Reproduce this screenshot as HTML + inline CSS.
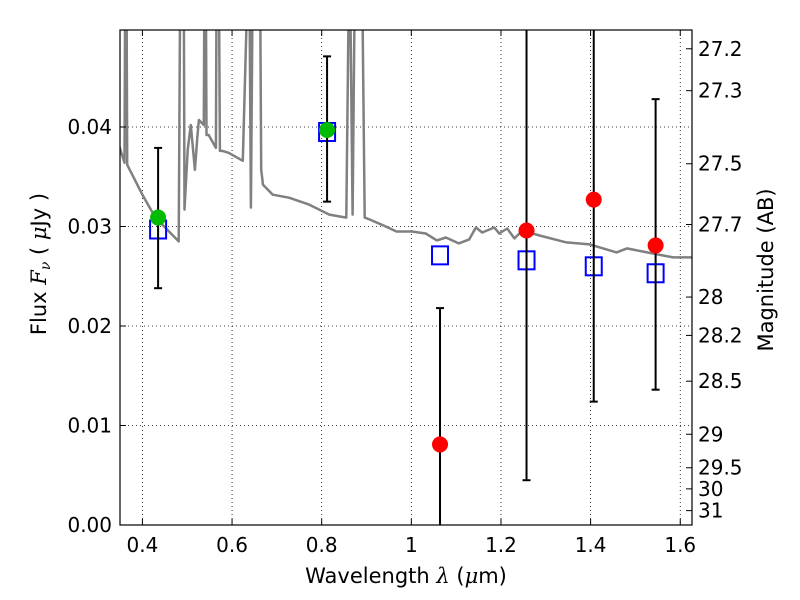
<!DOCTYPE html>
<html><head><meta charset="utf-8"><style>
body{margin:0;background:#fff;}
svg{display:block;font-family:"DejaVu Sans","Liberation Sans",sans-serif;}
</style></head><body>
<svg id="chart" width="800" height="600" xmlns="http://www.w3.org/2000/svg"></svg>
<script>
const xTicks=[0.4,0.6,0.8,1.0,1.2,1.4,1.6];
const xTickLabels=["0.4","0.6","0.8","1","1.2","1.4","1.6"];
const yTicks=[0,0.01,0.02,0.03,0.04];
const yTickLabels=["0.00","0.01","0.02","0.03","0.04"];
const magTicks=[27.2,27.3,27.5,27.7,28,28.2,28.5,29,29.5,30,31];
const specLam=[0.344,0.360,0.362,0.364,0.366,0.400,0.429,0.481,0.485,0.492,0.494,0.501,0.508,0.517,0.523,0.526,0.537,0.539,0.541,0.543,0.548,0.564,0.566,0.570,0.573,0.579,0.593,0.624,0.638,0.642,0.647,0.662,0.665,0.669,0.691,0.727,0.772,0.817,0.855,0.862,0.869,0.875,0.889,0.896,0.907,0.938,0.967,1.001,1.032,1.057,1.077,1.106,1.129,1.144,1.158,1.185,1.196,1.214,1.230,1.248,1.286,1.346,1.398,1.458,1.481,1.526,1.584,1.629];
const specFlux=[0.0387,0.0364,0.06,0.06,0.0362,0.0332,0.0309,0.0285,0.06,0.06,0.0317,0.0377,0.0402,0.0357,0.0392,0.0407,0.0402,0.06,0.06,0.0392,0.0392,0.0379,0.06,0.06,0.0376,0.0376,0.0374,0.0366,0.06,0.0319,0.06,0.06,0.0357,0.0342,0.0332,0.0329,0.0322,0.0312,0.0309,0.06,0.0312,0.06,0.06,0.0309,0.0307,0.0301,0.0295,0.0295,0.0293,0.0286,0.0289,0.0283,0.0287,0.0299,0.0294,0.0299,0.0293,0.0298,0.0288,0.0296,0.0291,0.0284,0.0282,0.0274,0.0278,0.0274,0.0269,0.0269];
const bandLam=[0.435,0.812,1.064,1.257,1.407,1.545];
const obsFlux=[0.0309,0.0397,0.0081,0.0296,0.0327,0.0281];
const errLow=[0.0238,0.0325,-0.01,0.0045,0.0124,0.0136];
const errHigh=[0.0379,0.0471,0.0218,0.07,0.07,0.0428];
const modelFlux=[0.0297,0.0395,0.0271,0.0266,0.026,0.0253];
const obsColor=["#00bb00","#00bb00","red","red","red","red"];

const L=120,R=692,T=30,B=525;
const X0=0.35,X1=1.6262,Y0=0,Y1=0.04975;
const xs=v=>L+(v-X0)/(X1-X0)*(R-L);
const ys=v=>B-(v-Y0)/(Y1-Y0)*(B-T);
const NS="http://www.w3.org/2000/svg";
const svg=document.getElementById('chart');
function mk(tag,at,parent){const e=document.createElementNS(NS,tag);for(const k in at)e.setAttribute(k,at[k]);(parent||svg).appendChild(e);return e;}
const defs=mk('defs',{});const cp=mk('clipPath',{id:'clip'},defs);mk('rect',{x:L,y:T,width:R-L,height:B-T},cp);

xTicks.forEach(v=>{const l=mk('line',{x1:xs(v),x2:xs(v),y1:T,y2:B,stroke:'#000','stroke-width':0.8,'stroke-dasharray':'1,3'});

});
yTicks.forEach(v=>{const l=mk('line',{x1:L,x2:R,y1:ys(v),y2:ys(v),stroke:'#000','stroke-width':0.8,'stroke-dasharray':'1,3'});

});

const g=mk('g',{'clip-path':'url(#clip)'});


const pts=specLam.map((v,i)=>xs(v).toFixed(1)+','+ys(specFlux[i]).toFixed(1)).join(' ');
const sp=mk('polyline',{points:pts,fill:'none',stroke:'#808080','stroke-width':2.5,'stroke-linejoin':'round'},g);



bandLam.forEach((v,i)=>{
  const x=xs(v);
  const sq=mk('rect',{x:x-8,y:ys(modelFlux[i])-9,width:16,height:18,fill:'none',stroke:'#0000ff','stroke-width':2},g);
  
  
  const eb=mk('line',{x1:x,x2:x,y1:ys(errLow[i]),y2:ys(errHigh[i]),stroke:'#000','stroke-width':2},g);
  
  
  [errLow[i],errHigh[i]].forEach(e=>{const c=mk('line',{x1:x-4,x2:x+4,y1:ys(e),y2:ys(e),stroke:'#000','stroke-width':2},g);
  
  });
  const pt=mk('circle',{cx:x,cy:ys(obsFlux[i]),r:8,fill:obsColor[i]},g);
  
  
});

mk('rect',{x:L,y:T,width:R-L,height:B-T,fill:'none',stroke:'#000','stroke-width':1.2});

xTicks.forEach((v,i)=>{
  mk('line',{x1:xs(v),x2:xs(v),y1:B,y2:B-6,stroke:'#000'});mk('line',{x1:xs(v),x2:xs(v),y1:T,y2:T+6,stroke:'#000'});
  const t=mk('text',{x:xs(v),y:B+27,'font-size':20,'text-anchor':'middle'});t.textContent=xTickLabels[i];
  
  
});
yTicks.forEach((v,i)=>{
  mk('line',{x1:L,x2:L+6,y1:ys(v),y2:ys(v),stroke:'#000'});
  const t=mk('text',{x:L-8,y:ys(v)+7,'font-size':20,'text-anchor':'end'});t.textContent=yTickLabels[i];
  
  
});
magTicks.forEach(m=>{
  const f=Math.pow(10,(23.9-m)/2.5);const y=ys(f);
  mk('line',{x1:R,x2:R-6,y1:y,y2:y,stroke:'#000'});
  const t=mk('text',{x:R+6,y:y+7,'font-size':20});t.textContent=String(m);
  
  
});
</script>
<svg style="position:absolute;left:0;top:0" width="800" height="600" xmlns="http://www.w3.org/2000/svg" font-family="DejaVu Sans, Liberation Sans, sans-serif">
<text x="406" y="583" font-size="21" text-anchor="middle">Wavelength  <tspan font-family="DejaVu Serif, serif" font-style="italic">λ</tspan> (<tspan font-style="italic" font-family="DejaVu Serif, serif">μ</tspan>m)</text>
<text transform="translate(46,264) rotate(-90)" font-size="21" text-anchor="middle">Flux  <tspan font-family="DejaVu Serif, serif" font-style="italic">F<tspan font-size="14" dy="4">ν</tspan></tspan><tspan dy="-4">  ( </tspan><tspan font-family="DejaVu Serif, serif" font-style="italic">μ</tspan>Jy )</text>
<text transform="translate(773,270) rotate(-90)" font-size="21" text-anchor="middle">Magnitude (AB)</text>
</svg>
</body></html>
